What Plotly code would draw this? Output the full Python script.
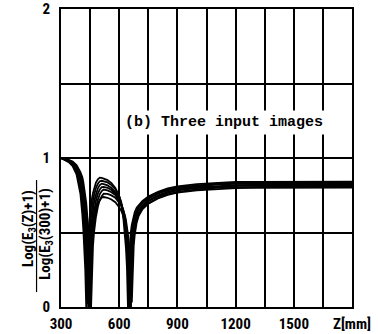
import plotly.graph_objects as go

# Z positions [mm]
z_mm = [300, 320, 340, 360, 380,
        400, 405, 410, 415, 420, 425, 430, 435, 440, 445, 450, 455, 460, 465, 470, 475, 480,
        490, 500, 510, 520, 540, 560, 580, 600, 610, 620,
        625, 630, 635, 640, 645, 650, 655, 660, 665, 670, 675, 680,
        690, 700, 720, 750, 800, 850, 900,
        1000, 1100, 1200, 1300, 1400, 1500, 1600, 1700, 1800]

curve_1 = [1.0, 0.985, 0.972, 0.945, 0.89,
           0.76, 0.70, 0.62, 0.52, 0.40, 0.25, 0.0, 0.331, 0.470, 0.566, 0.635, 0.687, 0.731, 0.766, 0.792, 0.818, 0.835,
           0.857, 0.868, 0.866, 0.863, 0.852, 0.832, 0.799, 0.744, 0.696, 0.618,
           0.557, 0.487, 0.392, 0.261, 0.0, 0.307, 0.430, 0.502, 0.553, 0.589, 0.614, 0.635,
           0.666, 0.683, 0.712, 0.741, 0.773, 0.796, 0.809,
           0.824, 0.833, 0.839, 0.840, 0.841, 0.841, 0.842, 0.842, 0.842]

curve_2 = [1.0, 0.988, 0.976, 0.953, 0.905,
           0.80, 0.76, 0.70, 0.62, 0.52, 0.40, 0.25, 0.02, 0.323, 0.459, 0.553, 0.621, 0.672, 0.714, 0.748, 0.774, 0.799,
           0.827, 0.844, 0.847, 0.845, 0.836, 0.818, 0.791, 0.744, 0.706, 0.646,
           0.604, 0.544, 0.476, 0.383, 0.255, 0.0, 0.305, 0.428, 0.499, 0.550, 0.585, 0.611,
           0.646, 0.672, 0.701, 0.733, 0.766, 0.789, 0.803,
           0.818, 0.828, 0.833, 0.834, 0.835, 0.835, 0.836, 0.836, 0.836]

curve_3 = [1.0, 0.99, 0.98, 0.96, 0.92,
           0.84, 0.80, 0.76, 0.70, 0.62, 0.52, 0.40, 0.25, 0.0, 0.315, 0.448, 0.540, 0.606, 0.656, 0.697, 0.730, 0.755,
           0.797, 0.818, 0.828, 0.825, 0.816, 0.799, 0.772, 0.726, 0.689, 0.631,
           0.589, 0.531, 0.465, 0.374, 0.249, 0.04, 0.303, 0.424, 0.495, 0.545, 0.581, 0.606,
           0.641, 0.667, 0.696, 0.727, 0.760, 0.783, 0.797,
           0.812, 0.822, 0.827, 0.828, 0.828, 0.829, 0.829, 0.830, 0.830]

curve_4 = [1.0, 0.992, 0.982, 0.966, 0.933,
           0.87, 0.84, 0.80, 0.76, 0.70, 0.62, 0.52, 0.40, 0.25, 0.0, 0.308, 0.437, 0.527, 0.591, 0.640, 0.680, 0.713,
           0.761, 0.789, 0.804, 0.806, 0.800, 0.785, 0.761, 0.721, 0.693, 0.648,
           0.616, 0.575, 0.518, 0.454, 0.365, 0.243, 0.0, 0.30, 0.42, 0.49, 0.54, 0.575,
           0.62, 0.65, 0.682, 0.715, 0.75, 0.773, 0.788,
           0.803, 0.813, 0.818, 0.82, 0.82, 0.821, 0.821, 0.822, 0.822]

curve_5 = [1.0, 0.994, 0.985, 0.972, 0.945,
           0.89, 0.87, 0.84, 0.80, 0.76, 0.70, 0.62, 0.52, 0.40, 0.25, 0.05, 0.300, 0.427, 0.514, 0.577, 0.624, 0.664,
           0.719, 0.758, 0.778, 0.788, 0.782, 0.770, 0.751, 0.715, 0.691, 0.656,
           0.632, 0.600, 0.561, 0.506, 0.442, 0.356, 0.237, 0.0, 0.298, 0.417, 0.487, 0.537,
           0.596, 0.631, 0.671, 0.708, 0.743, 0.766, 0.782,
           0.798, 0.808, 0.813, 0.815, 0.815, 0.816, 0.816, 0.817, 0.817]

curve_6 = [1.0, 0.995, 0.988, 0.976, 0.953,
           0.905, 0.89, 0.87, 0.84, 0.80, 0.76, 0.70, 0.62, 0.52, 0.40, 0.25, 0.0, 0.291, 0.413, 0.497, 0.558, 0.604,
           0.673, 0.719, 0.744, 0.760, 0.759, 0.749, 0.733, 0.702, 0.681, 0.654,
           0.635, 0.612, 0.581, 0.543, 0.490, 0.428, 0.344, 0.230, 0.03, 0.296, 0.414, 0.483,
           0.566, 0.611, 0.657, 0.695, 0.733, 0.756, 0.773,
           0.789, 0.800, 0.805, 0.807, 0.808, 0.808, 0.809, 0.809, 0.810]

curve_7 = [1.0, 0.992, 0.982, 0.966, 0.933,
           0.87, 0.84, 0.80, 0.76, 0.70, 0.62, 0.52, 0.40, 0.25, 0.08, 0.281, 0.400, 0.481, 0.540, 0.585, 0.622, 0.651,
           0.696, 0.720, 0.735, 0.738, 0.733, 0.722, 0.703, 0.670, 0.648, 0.614,
           0.592, 0.562, 0.525, 0.474, 0.414, 0.333, 0.222, 0.0, 0.293, 0.410, 0.478, 0.527,
           0.586, 0.620, 0.659, 0.693, 0.729, 0.753, 0.768,
           0.783, 0.793, 0.798, 0.800, 0.800, 0.801, 0.801, 0.802, 0.802]

curves = [curve_1, curve_2, curve_3, curve_4, curve_5, curve_6, curve_7]

x_tickvals = [300, 600, 900, 1200, 1500, 1800]
x_ticktext = ["300", "600", "900", "1200", "1500", "Z[mm]"]
y_tickvals = [0, 1, 2]
y_ticktext = ["0", "1", "2"]

label_text = "(b) Three input images"
y_num = "Log(E<sub>3</sub>(Z)+1)"
y_den = "Log(E<sub>3</sub>(300)+1)"

tick_font = dict(family="Liberation Sans Narrow, Roboto Condensed, Liberation Sans, Arial",
                 size=15, color="black", weight="bold")

fig = go.Figure()
for c in curves:
    fig.add_trace(go.Scatter(x=z_mm, y=c, mode="lines",
                             line=dict(color="black", width=1.8),
                             showlegend=False, hoverinfo="skip"))

fig.update_layout(
    width=378, height=334,
    margin=dict(l=61, r=26, t=9, b=27, autoexpand=False),
    paper_bgcolor="white", plot_bgcolor="white",
    showlegend=False,
)
fig.update_xaxes(range=[300, 1800], tickvals=x_tickvals, ticktext=x_ticktext,
                 showgrid=True, gridcolor="black", gridwidth=1.5,
                 minor=dict(dtick=150, tick0=300, showgrid=True, gridcolor="black", gridwidth=1.5),
                 showline=True, mirror=True, linecolor="black", linewidth=2,
                 zeroline=False, ticks="", tickfont=tick_font, ticklabelstandoff=2,
                 automargin=False)
fig.update_yaxes(range=[0, 2], tickvals=y_tickvals, ticktext=y_ticktext,
                 showgrid=True, gridcolor="black", gridwidth=1.5,
                 minor=dict(dtick=0.5, tick0=0, showgrid=True, gridcolor="black", gridwidth=1.5),
                 showline=True, mirror=True, linecolor="black", linewidth=2,
                 zeroline=False, ticks="", tickfont=tick_font, ticklabelstandoff=6,
                 automargin=False)

fig.add_annotation(x=1140, y=1.235, xref="x", yref="y", text=label_text, showarrow=False,
                   font=dict(family="Liberation Mono, Courier New, monospace", size=15,
                             color="black", weight="bold"),
                   bgcolor="white", borderpad=3)

ylab_font = dict(family="Liberation Sans Narrow, Roboto Condensed, Liberation Sans, Arial",
                 size=15, color="black", weight="bold")
fig.add_annotation(x=-0.11, y=0.265, xref="paper", yref="paper", text=y_num, textangle=-90,
                   showarrow=False, font=ylab_font, xanchor="center", yanchor="middle")
fig.add_annotation(x=-0.052, y=0.245, xref="paper", yref="paper", text=y_den, textangle=-90,
                   showarrow=False, font=ylab_font, xanchor="center", yanchor="middle")
fig.add_shape(type="line", xref="paper", yref="paper", x0=-0.084, x1=-0.084, y0=0.05, y1=0.426,
              line=dict(color="black", width=1.2))

fig.write_html("out.html", config={"displayModeBar": False},
               post_script="document.body.style.margin='0';document.body.style.overflow='hidden';")
